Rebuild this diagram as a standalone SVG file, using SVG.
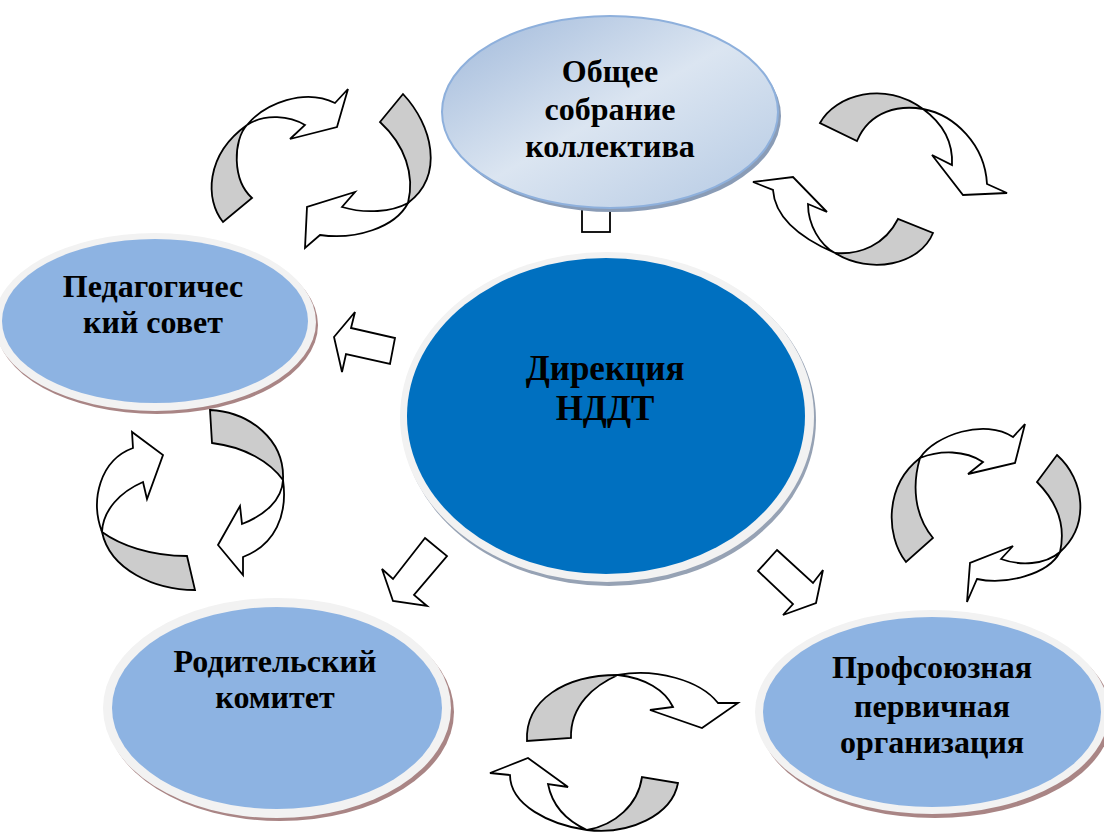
<svg xmlns="http://www.w3.org/2000/svg" width="1104" height="832" viewBox="0 0 1104 832">
<style>
.lbl{font-family:"Liberation Serif","Times New Roman",serif;font-weight:bold;font-size:32px;fill:#000;text-anchor:middle}
.big{font-size:35px}
.ring{fill:#f2f2f2}
.shadow{fill:#a98585}
.blue{fill:#8db3e2}
.arr{fill:#fff;stroke:#000;stroke-width:1.8;stroke-linejoin:miter}
.gry{fill:#cccccc;stroke:#000;stroke-width:1.8;stroke-linejoin:miter}
</style>
<defs>
<linearGradient id="topg" x1="0" y1="0" x2="1" y2="1">
<stop offset="0" stop-color="#9fb8da"/>
<stop offset="0.5" stop-color="#dbe5f1"/>
<stop offset="1" stop-color="#b4c9e3"/>
</linearGradient>
</defs>
<rect width="1104" height="832" fill="#fff"/>

<g id="connectors">
<!-- straight block arrows -->
<rect class="arr" x="582" y="196" width="28" height="36"/>
<polygon class="arr" points="334,337 355,312 351,328 395,338 390,364 346,354 342,372"/>
<polygon class="arr" points="425,538 447,556 414,595 427,606 393,601 382,569 393,579"/>
<polygon class="arr" points="777,550 813,583 823,570 816,603 783,615 793,604 758,571"/>
<!-- pair 1 top-left -->
<path class="gry" d="M223,222 C205,200 205,155 247,125 C233,140 232,180 252,198 Z"/>
<path class="arr" d="M247,125 C265,103 305,88 335,103 L348,89 L337,127 L290,139 L305,125 C290,116 265,113 247,125 Z"/>
<path class="gry" d="M380,122 L403,94 C432,125 445,175 408,203 C415,175 405,145 380,122 Z"/>
<path class="arr" d="M408,203 C395,228 355,240 320,235 L305,248 L307,207 L355,192 L342,207 C365,214 392,212 408,203 Z"/>
<!-- pair 2 top-right -->
<path class="gry" d="M820,123 C835,95 885,80 923,109 C900,105 870,110 857,141 Z"/>
<path class="arr" d="M923,109 C955,115 985,145 987,184 L1007,193 L963,195 L932,155 L952,165 C953,145 945,125 923,109 Z"/>
<path class="gry" d="M933,233 C920,265 870,275 835,253 C860,255 885,245 898,219 Z"/>
<path class="arr" d="M835,253 C805,240 775,220 773,190 L753,182 L793,177 L827,212 L808,204 C808,225 820,245 835,253 Z"/>
<!-- pair 3 left -->
<path class="gry" d="M210,410 C250,412 285,440 283,480 C270,462 245,447 212,443 Z"/>
<path class="arr" d="M283,480 C288,515 275,545 243,557 L243,575 L218,545 L240,506 L242,524 C265,515 282,500 283,480 Z"/>
<path class="gry" d="M195,590 C155,590 110,570 102,532 C120,545 150,556 187,556 Z"/>
<path class="arr" d="M102,532 C90,500 100,460 133,448 L132,432 L163,455 L147,499 L143,482 C120,492 103,510 102,532 Z"/>
<!-- pair 4 right -->
<path class="gry" d="M906,562 C885,535 885,485 920,458 C912,485 914,515 933,538 Z"/>
<path class="arr" d="M920,458 C935,435 985,418 1013,437 L1025,424 L1015,463 L968,474 L983,462 C965,450 940,450 920,458 Z"/>
<path class="gry" d="M1037,482 L1057,455 C1085,480 1090,525 1060,552 C1065,530 1060,505 1037,482 Z"/>
<path class="arr" d="M1060,552 C1048,575 1005,585 977,579 L967,602 L970,563 L1013,546 L1001,559 C1020,566 1045,565 1060,552 Z"/>
<!-- pair 5 bottom -->
<path class="gry" d="M527,741 C525,700 565,675 618,675 C595,685 570,705 571,738 Z"/>
<path class="arr" d="M618,675 C655,668 700,680 718,703 L738,703 L702,728 L650,710 L673,707 C665,690 645,678 618,675 Z"/>
<path class="gry" d="M678,783 C672,815 630,835 587,830 C615,825 638,805 642,777 Z"/>
<path class="arr" d="M587,830 C550,825 510,805 510,775 L490,773 L528,758 L568,787 L548,784 C552,805 565,820 587,830 Z"/>
</g>

<g id="node-obshchee">
<ellipse cx="613" cy="116" rx="168" ry="96" fill="#8a9cb6"/>
<ellipse cx="610" cy="112" rx="168" ry="96" fill="url(#topg)" stroke="#8eb0dc" stroke-width="2"/>
<text class="lbl" x="610" y="82">Общее</text>
<text class="lbl" x="610" y="120">собрание</text>
<text class="lbl" x="610" y="157">коллектива</text>
</g>

<g id="node-pedsovet">
<ellipse class="shadow" cx="157" cy="325" rx="161" ry="89"/>
<ellipse class="ring" cx="155" cy="322" rx="161" ry="89"/>
<ellipse class="blue" cx="155" cy="321" rx="153" ry="82"/>
<text class="lbl" x="153" y="297">Педагогичес</text>
<text class="lbl" x="153" y="333">кий совет</text>
</g>

<g id="node-direktsiya">
<ellipse cx="609" cy="420" rx="207" ry="166" fill="#96a2b4"/>
<ellipse class="ring" cx="607" cy="417" rx="207" ry="165"/>
<ellipse cx="606" cy="416" rx="199" ry="158" fill="#0070c0"/>
<text class="lbl big" x="605" y="380">Дирекция</text>
<text class="lbl big" x="605" y="420">НДДТ</text>
</g>

<g id="node-roditelskiy">
<ellipse class="shadow" cx="280" cy="712" rx="174" ry="109"/>
<ellipse class="ring" cx="277" cy="708" rx="174" ry="110"/>
<ellipse class="blue" cx="277" cy="708" rx="165" ry="101"/>
<text class="lbl" x="275" y="672">Родительский</text>
<text class="lbl" x="275" y="708">комитет</text>
</g>

<g id="node-profsoyuz">
<ellipse class="shadow" cx="935" cy="716" rx="177" ry="102"/>
<ellipse class="ring" cx="932" cy="712" rx="177" ry="102"/>
<ellipse class="blue" cx="932" cy="712" rx="169" ry="95"/>
<text class="lbl" x="932" y="678">Профсоюзная</text>
<text class="lbl" x="932" y="717">первичная</text>
<text class="lbl" x="932" y="753">организация</text>
</g>
</svg>
